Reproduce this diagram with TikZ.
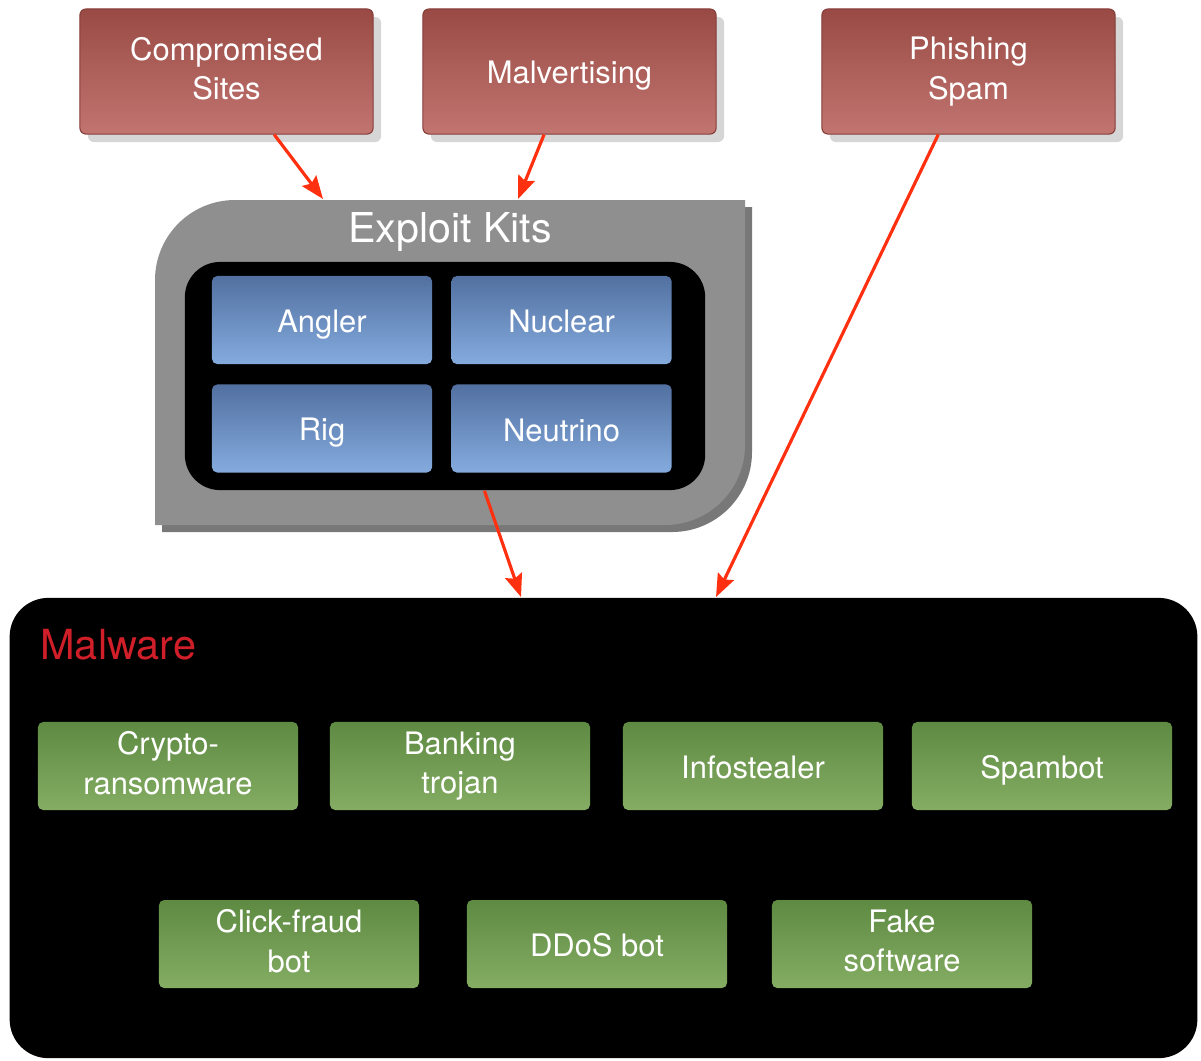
\documentclass[tikz,border=0pt]{standalone}
\usepackage{fontspec}
\setmainfont{TeX Gyre Heros}
\usetikzlibrary{arrows.meta}
\usetikzlibrary{positioning}
\usetikzlibrary{shadows}
\definecolor{redtop}{rgb}{0.60, 0.29, 0.27}
\definecolor{redbot}{rgb}{0.76, 0.46, 0.44}
\definecolor{redline}{rgb}{0.52, 0.24, 0.22}
\definecolor{bluetop}{rgb}{0.32, 0.44, 0.63}
\definecolor{bluebot}{rgb}{0.52, 0.67, 0.87}
\definecolor{greentop}{rgb}{0.37, 0.54, 0.26}
\definecolor{greenbot}{rgb}{0.52, 0.68, 0.39}
\definecolor{kitgray}{rgb}{0.56, 0.56, 0.56}
\definecolor{kitshade}{rgb}{0.47, 0.47, 0.47}
\definecolor{feedred}{rgb}{1.0, 0.19, 0.06}
\definecolor{malred}{rgb}{0.82, 0.12, 0.16}
\newcommand{\boxstrut}{\rule[-1.8pt]{0pt}{10.8pt}}
\tikzset{
  boxtext/.style={text=white, align=center, font=\fontsize{8.8}{11.2}\selectfont,
    execute at begin node=\boxstrut, execute at end node=\boxstrut},
  srcbox/.style={boxtext, rounded corners=1.7pt, top color=redtop, bottom color=redbot,
    draw=redline, line width=0.3pt, minimum width=2.93cm, minimum height=1.25cm,
    drop shadow={shadow xshift=0.08cm, shadow yshift=-0.08cm, fill=black!16, opacity=1}},
  kitbox/.style={boxtext, rounded corners=1.5pt, top color=bluetop, bottom color=bluebot,
    minimum width=2.2cm, minimum height=0.88cm, inner sep=0pt},
  malbox/.style={boxtext, rounded corners=1.5pt, top color=greentop, bottom color=greenbot,
    minimum width=2.6cm, minimum height=0.88cm, inner sep=0pt},
  feed/.style={draw=feedred, line width=0.9pt,
    -{Stealth[length=6.5pt, width=5pt, inset=1pt]}}
}

\begin{document}
\begin{tikzpicture}[x=0.01cm, y=-0.01cm]
    \useasboundingbox (0, 0) rectangle (1201, 1060);

    % exploit kit panel
    \fill [kitshade] (162, 532) -- (162, 287) arc (180:270:80) -- (752, 207) -- (752, 452) arc (0:90:80) -- cycle;
    \fill [kitgray] (155, 525) -- (155, 280) arc (180:270:80) -- (745, 200) -- (745, 445) arc (0:90:80) -- cycle;
    \node [text=white, font=\fontsize{11.7}{14}\selectfont] (kits) at (450, 232) {Exploit Kits};
    \node [fill=black, rounded corners=10pt, minimum width=5.2cm, minimum height=2.28cm] (ekbox) at (445, 376) {};

    \node [kitbox] (angler) at (322, 320) {Angler};
    \node [kitbox, right=0.18cm of angler] (nuclear) {Nuclear};
    \node [kitbox, below=0.19cm of angler] (rig) {Rig};
    \node [kitbox, below=0.19cm of nuclear] (neutrino) {Neutrino};

    % malware panel
    \node [fill=black, rounded corners=11pt, minimum width=11.87cm, minimum height=4.6cm] (malware) at (603.5, 828) {};
    \node [anchor=west, text=malred, font=\fontsize{11.8}{14}\selectfont] (maltitle) at (28, 645) {Malware};

    \node [malbox] (crypto) at (168, 766) {Crypto-\\ransomware};
    \node [malbox] (banking) at (460, 766) {Banking\\trojan};
    \node [malbox] (info) at (753, 766) {Infostealer};
    \node [malbox] (spam) at (1042, 766) {Spambot};
    \node [malbox] (click) at (289, 944) {Click-fraud\\bot};
    \node [malbox] (ddos) at (597, 944) {DDoS bot};
    \node [malbox] (fake) at (902, 944) {Fake\\software};

    % sources
    \node [srcbox] (sites) at (226.5, 71.5) {Compromised\\Sites};
    \node [srcbox] (malvert) at (569.5, 71.5) {Malvertising};
    \node [srcbox] (phish) at (968.5, 71.5) {Phishing\\Spam};

    \coordinate (kitsL) at (323, 199);
    \coordinate (kitsR) at (518, 199);
    \coordinate (malL) at (521, 597);
    \coordinate (malR) at (716, 597);

    \draw [feed] (sites) -- (kitsL);
    \draw [feed] (malvert) -- (kitsR);
    \draw [feed] (phish) -- (malR);
    \draw [feed] (ekbox) -- (malL);
  \end{tikzpicture}
\end{document}
